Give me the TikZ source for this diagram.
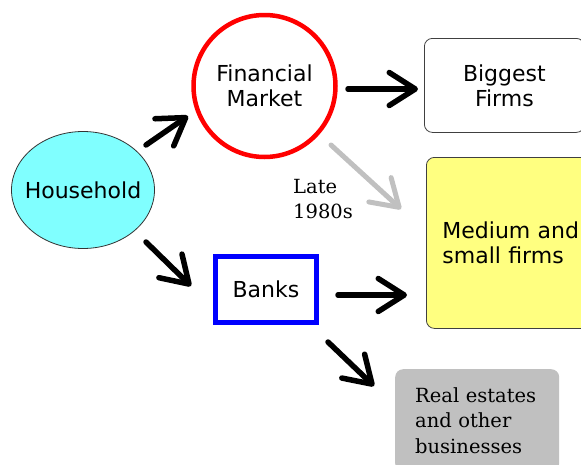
\documentclass[tikz,border=0pt]{standalone}
\usepackage{fontspec}
\setmainfont{DejaVu Serif}
\setsansfont{DejaVu Sans}
\usetikzlibrary{arrows.meta,shapes.geometric}
\definecolor{hhcyan}{HTML}{80FFFF}
\definecolor{smeyellow}{HTML}{FFFF80}
\definecolor{restgray}{HTML}{C0C0C0}
\newcommand{\sanstext}{\sffamily\fontsize{22}{25}\selectfont}
\newcommand{\seriftext}{\rmfamily\fontsize{19.5}{25.5}\selectfont}

\begin{document}
\begin{tikzpicture}
                  [
                  x = 1pt, y = -1pt,
                  flow/.style = {line width=5.5pt, line cap=round,
                        -{Straight Barb[length=26pt,width=33pt,round]}},
                  firm/.style = {rectangle, rounded corners=8pt,
                        anchor=north west, font=\sanstext}
                  ]
                  \useasboundingbox (0,0) rectangle (581,464);
                  \node (hh) [ellipse, draw=black!80, line width=0.8pt, fill=hhcyan,
                        minimum width=143, minimum height=117,
                        label={[font=\sanstext]center:Household}] at (83,190) {};
                  \node (fm) [circle, draw=red, line width=4.5pt,
                        minimum size=142, align=center, font=\sanstext]
                        at (264.5,86) {Financial\\Market};
                  \node (banks) [rectangle, draw=blue, line width=5pt,
                        minimum width=101, minimum height=66, font=\sanstext]
                        at (266,289.5) {Banks};
                  \node (big) [firm, draw=black!75, line width=0.8pt,
                        minimum width=160, minimum height=94, align=center]
                        at (424,38) {Biggest\\Firms};
                  \node (sme) [firm, draw=black!75, line width=0.8pt,
                        fill=smeyellow, minimum height=171,
                        text width=148, inner xsep=16, align=left]
                        at (426,157) {Medium and\\small firms};
                  \node (rest) [firm, fill=restgray, font=\seriftext,
                        text width=124, inner xsep=20, inner ysep=18, align=left]
                        at (395,369) {Real estates\\and other\\businesses};
                  \node (late) [anchor=north west, inner sep=0pt, align=left,
                        font=\seriftext] at (293,178.8) {Late\\1980s};
                  \coordinate (hh-up)    at (146,145);
                  \coordinate (fm-in)    at (188,116);
                  \coordinate (fm-out)   at (348,89);
                  \coordinate (big-in)   at (418,89);
                  \coordinate (hh-down)  at (146,242);
                  \coordinate (banks-in) at (191,286);
                  \coordinate (banks-r)  at (338,295);
                  \coordinate (sme-in)   at (407,295);
                  \coordinate (banks-d)  at (328,342);
                  \coordinate (rest-in)  at (374,386);
                  \coordinate (fm-late)  at (331,145);
                  \coordinate (sme-late) at (401,209);
                  \draw [flow] (hh-up) -- (fm-in);
                  \draw [flow] (fm-out) -- (big-in);
                  \draw [flow] (hh-down) -- (banks-in);
                  \draw [flow] (banks-r) -- (sme-in);
                  \draw [flow] (banks-d) -- (rest-in);
                  \draw [flow, restgray, line width=5pt] (fm-late) -- (sme-late);
\end{tikzpicture}
\end{document}
